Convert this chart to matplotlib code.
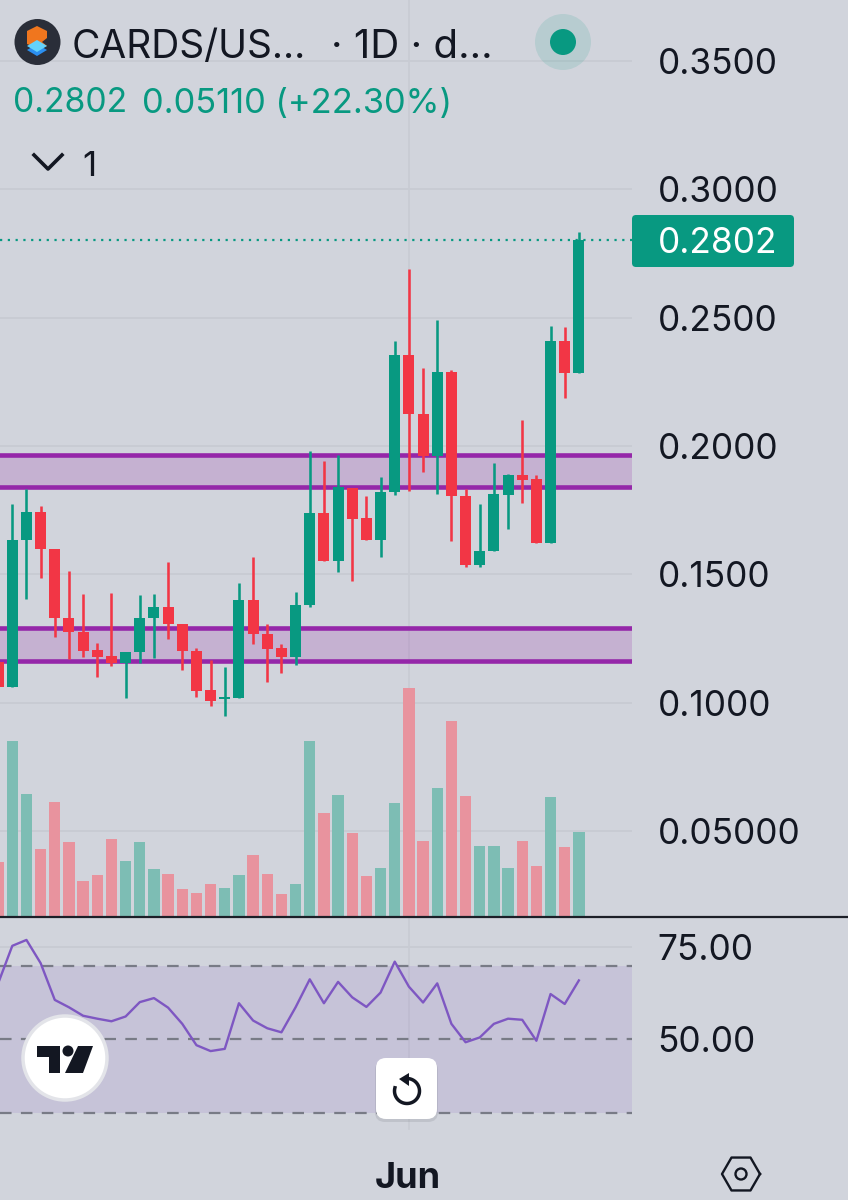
import numpy as np
import matplotlib
matplotlib.use('Agg')
import matplotlib.pyplot as plt
from matplotlib.patches import Circle, Ellipse, FancyBboxPatch, Polygon

plt.rcParams['font.family'] = ['Inter', 'DejaVu Sans']

# --- DATA ---
opens = [0.1159, 0.1060, 0.1634, 0.1742, 0.1599, 0.1331, 0.1275, 0.1205, 0.1182, 0.1155, 0.1197,
         0.1330, 0.1374, 0.1307, 0.1201, 0.1048, 0.1013, 0.1017, 0.1399, 0.1269, 0.1212, 0.1179,
         0.1380, 0.1738, 0.1553, 0.1836, 0.1718, 0.1634, 0.1820, 0.2355, 0.2125, 0.1961, 0.2287,
         0.1805, 0.1536, 0.1591, 0.1810, 0.1888, 0.1870, 0.1621, 0.2410, 0.2286]
closes = [0.1060, 0.1634, 0.1742, 0.1597, 0.1330, 0.1274, 0.1202, 0.1179, 0.1155, 0.1197, 0.1331,
          0.1374, 0.1306, 0.1200, 0.1046, 0.1007, 0.1021, 0.1399, 0.1267, 0.1209, 0.1179, 0.1380,
          0.1738, 0.1553, 0.1839, 0.1717, 0.1634, 0.1821, 0.2355, 0.2124, 0.1961, 0.2287, 0.1804,
          0.1536, 0.1591, 0.1812, 0.1888, 0.1869, 0.1621, 0.2410, 0.2286, 0.2802]
highs = [0.1159, 0.1774, 0.1832, 0.1767, 0.1599, 0.1512, 0.1424, 0.1231, 0.1428, 0.1197, 0.1419,
         0.1422, 0.1548, 0.1307, 0.1212, 0.1166, 0.1140, 0.1465, 0.1569, 0.1305, 0.1227, 0.1430,
         0.1982, 0.1942, 0.1964, 0.1836, 0.1805, 0.1880, 0.2408, 0.2691, 0.2304, 0.2491, 0.2297,
         0.1831, 0.1774, 0.1935, 0.1891, 0.2101, 0.1887, 0.2468, 0.2465, 0.2834]
lows = [0.1060, 0.1060, 0.1403, 0.1487, 0.1254, 0.1170, 0.1179, 0.1099, 0.1143, 0.1017, 0.1155,
        0.1173, 0.1247, 0.1126, 0.1023, 0.0987, 0.0947, 0.1017, 0.1230, 0.1080, 0.1117, 0.1147,
        0.1371, 0.1553, 0.1510, 0.1474, 0.1634, 0.1569, 0.1810, 0.1823, 0.1900, 0.1813, 0.1630,
        0.1530, 0.1530, 0.1591, 0.1677, 0.1777, 0.1621, 0.1621, 0.2186, 0.2286]
volumes = [5.43, 17.53, 12.17, 6.70, 11.40, 7.37, 3.47, 4.13, 7.73, 5.50, 7.43, 4.70, 4.20, 2.70,
           2.33, 3.17, 2.80, 4.10, 6.10, 4.20, 2.23, 3.17, 17.47, 10.27, 12.07, 8.33, 3.97, 4.80,
           11.30, 22.80, 7.47, 12.77, 19.50, 12.00, 7.00, 7.00, 4.80, 7.53, 4.97, 11.90, 6.93, 8.40]
rsi = [65.2, 75.4, 77.0, 70.7, 60.7, 58.7, 56.4, 55.6, 54.9, 56.2, 60.1, 61.2, 58.6, 54.2, 48.4,
       46.8, 47.4, 59.8, 55.1, 53.0, 51.9, 58.7, 66.3, 59.8, 65.6, 61.4, 58.8, 62.7, 71.1, 64.3,
       60.0, 65.2, 54.2, 49.2, 50.5, 54.2, 55.6, 55.3, 49.6, 62.3, 59.6, 66.0]
price_ticks = [0.35, 0.30, 0.25, 0.20, 0.15, 0.10, 0.05]
price_labels = ['0.3500', '0.3000', '0.2500', '0.2000', '0.1500', '0.1000', '0.05000']
rsi_ticks = [75.0, 50.0]
rsi_labels = ['75.00', '50.00']
rsi_levels = [70, 50, 30]
zones = [(0.1839, 0.1966), (0.1163, 0.1290)]
last_price = 0.2802

W, H = 848, 1200
BG = '#d1d4dc'
GREEN = '#089981'
RED = '#f23645'
VOL_GREEN = '#7dbdb4'
VOL_RED = '#e8939e'
PURPLE = '#9527a9'
GRID = '#c8cbd3'
INK = '#131722'


def px_axes(fig, left, top, right, bottom):
    # axes placed by picture pixels, y counted from the top
    ax = fig.add_axes([left / W, 1 - bottom / H, (right - left) / W, (bottom - top) / H])
    ax.axis('off')
    ax.patch.set_alpha(0)
    return ax


fig = plt.figure(figsize=(W / 100, H / 100), dpi=100, facecolor=BG)
x = np.arange(len(opens))
xlim = (0.132, 44.75)

# --- price pane ---
ax = px_axes(fig, 0, 0, 632, 917)
ax.set_xlim(xlim)
ax.set_ylim(0.01644, 0.3738)
for t in price_ticks:
    ax.axhline(t, color=GRID, lw=1.4, zorder=1)
ax.axvline(28.98, color=GRID, lw=1.2, zorder=1)
for lo, hi in zones:
    ax.axhspan(lo, hi, color=PURPLE, alpha=0.2, lw=0, zorder=2)
    ax.axhline(lo, color=PURPLE, lw=3.3, zorder=2)
    ax.axhline(hi, color=PURPLE, lw=3.3, zorder=2)
ax.axhline(last_price, color=GREEN, lw=1.6, ls=(0, (1, 2.5)), zorder=2)

colors = [GREEN if c >= o else RED for o, c in zip(opens, closes)]
ax.vlines(x, lows, highs, colors=colors, lw=1.85, zorder=3)
body_bottom = np.minimum(opens, closes)
body_height = np.abs(np.array(closes) - np.array(opens))
ax.bar(x, body_height, 0.78, bottom=body_bottom, color=colors, lw=0, zorder=4)

# --- volume, same pane ---
vol_ax = px_axes(fig, 0, 0, 632, 916)
vol_ax.set_xlim(xlim)
vol_ax.set_ylim(0, 91.6)
vol_colors = [VOL_GREEN if c == GREEN else VOL_RED for c in colors]
vol_ax.bar(x, volumes, 0.8, color=vol_colors, lw=0, zorder=3)

# --- RSI pane ---
rsi_ax = px_axes(fig, 0, 917, 632, 1200)
rsi_ax.set_xlim(xlim)
rsi_ax.set_ylim(50 - (1200 - 1039.3) / 3.68, 50 + (1039.3 - 917) / 3.68)
rsi_ax.axvline(28.98, ymin=0.25, color=GRID, lw=1.2, zorder=1)
rsi_ax.axhline(rsi_ticks[0], color=GRID, lw=1.4, zorder=1)
rsi_ax.axhspan(rsi_levels[2], rsi_levels[0], color='#7e57c2', alpha=0.13, lw=0, zorder=1)
for lvl in rsi_levels:
    rsi_ax.axhline(lvl, color='#787b86', lw=1.6, ls=(0, (5.2, 4.2)), zorder=2)
rsi_ax.plot(x, rsi, color='#7e57c2', lw=1.7, zorder=3)

# --- labels and widgets, drawn in picture pixels ---
ui = px_axes(fig, 0, 0, W, H)
ui.set_xlim(0, W)
ui.set_ylim(H, 0)
ui.plot([0, W], [917, 917], color='#1c1f28', lw=1.6, zorder=5)

for label, t in zip(price_labels, price_ticks):
    y = 702.6 - (t - 0.10) * 2566
    ui.text(657.5, y, label, fontsize=25.4, color=INK, va='center_baseline', ha='left')
for label, t in zip(rsi_labels, rsi_ticks):
    y = 1039.3 - (t - 50) * 3.68
    ui.text(657.5, y, label, fontsize=25.4, color=INK, va='center_baseline', ha='left')

# last price tag
tag_y = 702.6 - (last_price - 0.10) * 2566
ui.add_patch(FancyBboxPatch((632, 215), 162, 52, boxstyle='round,pad=0,rounding_size=4',
                            fc=GREEN, ec='none', zorder=6))
ui.text(657.5, tag_y, '0.2802', fontsize=25.4, color='white', va='center_baseline', ha='left', zorder=7)

# header
ui.add_patch(Circle((37.5, 42), 23, fc='#2a2e39', ec='none', zorder=6))
ui.add_patch(Polygon([[27, 38], [27, 31], [37, 26], [47, 31], [47, 38], [42, 42], [47, 46], [37, 48], [27, 44]],
                     fc='#f0761e', ec='none', zorder=7))
ui.add_patch(Polygon([[27, 50], [37, 44], [47, 50], [37, 56]], fc='#2b8ff0', ec='none', zorder=8))
ui.add_patch(Polygon([[27, 46], [37, 40], [47, 46], [37, 52]], fc='#63d2fb', ec='none', zorder=9))
ui.text(72, 43, 'CARDS/US...', fontsize=28, color=INK, va='center_baseline', ha='left')
ui.text(331, 43, '· 1D · d...', fontsize=29, color=INK, va='center_baseline', ha='left')
ui.add_patch(Ellipse((563, 42), 56, 56, fc='#089981', alpha=0.13, ec='none', zorder=6))
ui.add_patch(Circle((563, 42), 13, fc=GREEN, ec='none', zorder=7))
ui.text(13, 100, '0.2802', fontsize=24.3, color=GREEN, va='center_baseline', ha='left')
ui.text(142, 100, '0.05110 (+22.30%)', fontsize=24.8, color=GREEN, va='center_baseline', ha='left')
ui.plot([34, 48, 62], [155, 169, 155], color=INK, lw=2.6, zorder=6)
ui.text(82, 163, '1', fontsize=25, color=INK, va='center_baseline', ha='left')

# TradingView badge
ui.add_patch(Circle((65, 1058), 42, fc='white', ec='#e3e4e9', lw=2.5, zorder=6))
ui.add_patch(Polygon([[37, 1046], [60, 1046], [60, 1073], [49, 1073], [49, 1057], [37, 1057]],
                     fc='#131722', ec='none', zorder=7))
ui.add_patch(Circle((68, 1051), 5.5, fc='#131722', ec='none', zorder=7))
ui.add_patch(Polygon([[78, 1046], [93, 1046], [83, 1073], [65, 1073]], fc='#131722', ec='none', zorder=7))

# reset button
ui.add_patch(FancyBboxPatch((375, 1060), 63, 62, boxstyle='round,pad=0,rounding_size=10',
                            fc='#8a8d96', alpha=0.25, ec='none', zorder=6))
ui.add_patch(FancyBboxPatch((376, 1058), 61, 61, boxstyle='round,pad=0,rounding_size=10',
                            fc='white', ec='none', zorder=6))
ang = np.radians(np.linspace(-90, 195, 60))
ui.plot(407 + 12.5 * np.cos(ang), 1091 + 12.5 * np.sin(ang), color=INK, lw=2.5, zorder=7)
ui.add_patch(Polygon([[399, 1079], [409, 1073], [409, 1086]], fc=INK, ec='none', zorder=7))

# bottom axis
ui.text(408, 1178, 'Jun', fontsize=26, fontweight='bold', color=INK, va='center', ha='center')
hex_ang = np.radians(np.arange(0, 361, 60))
ui.plot(741 + 19 * np.cos(hex_ang), 1174 + 19 * np.sin(hex_ang), color=INK, lw=1.7, zorder=6)
ui.add_patch(Circle((741, 1174), 5.5, fc='none', ec=INK, lw=1.7, zorder=6))

fig.savefig('out.png', dpi=100, facecolor=BG)
